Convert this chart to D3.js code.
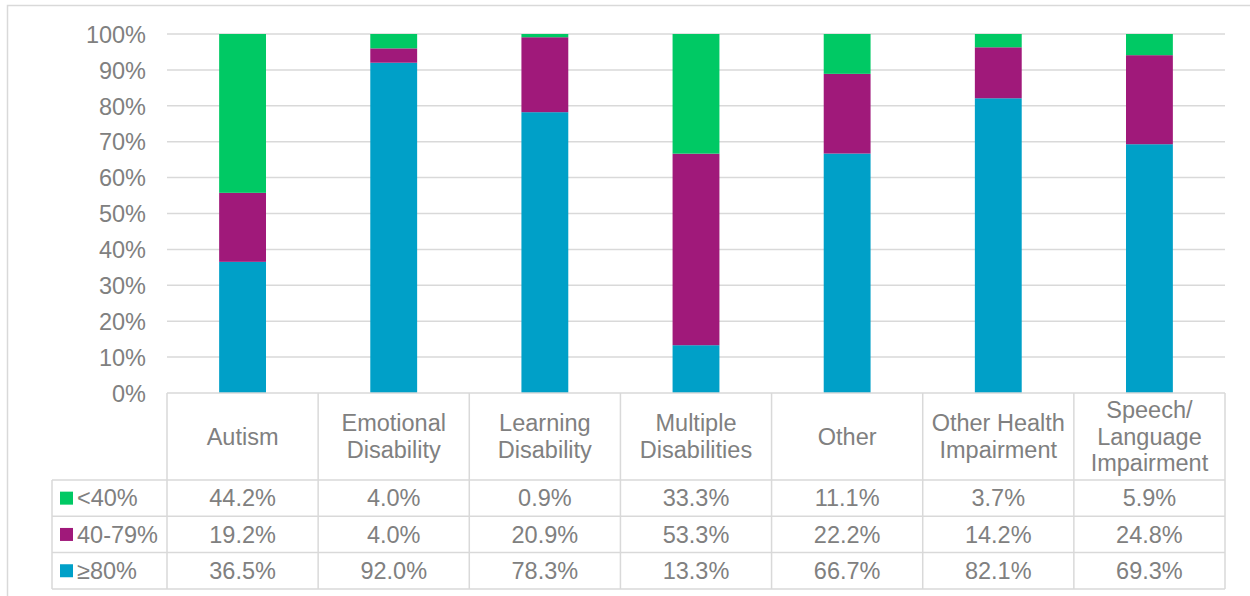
<!DOCTYPE html>
<html>
<head>
<meta charset="utf-8">
<script src="https://cdn.jsdelivr.net/npm/d3@7/dist/d3.min.js"></script>
<style>
  html, body { margin: 0; padding: 0; background: #fff; }
  svg { display: block; }
  text { font-family: "Liberation Sans", Arial, sans-serif; fill: #808080; }
</style>
</head>
<body>
<svg id="chart" width="1250" height="596"></svg>
<script>
const categories = ["Autism", "Emotional Disability", "Learning Disability", "Multiple Disabilities", "Other", "Other Health Impairment", "Speech/ Language Impairment"];
const categoryLines = [["Autism"], ["Emotional", "Disability"], ["Learning", "Disability"], ["Multiple", "Disabilities"], ["Other"], ["Other Health", "Impairment"], ["Speech/", "Language", "Impairment"]];
const seriesNames = ["<40%", "40-79%", "≥80%"];
const below40 = [44.2, 4.0, 0.9, 33.3, 11.1, 3.7, 5.9];
const mid40to79 = [19.2, 4.0, 20.9, 53.3, 22.2, 14.2, 24.8];
const above80 = [36.5, 92.0, 78.3, 13.3, 66.7, 82.1, 69.3];
const yTicks = [0, 0.1, 0.2, 0.3, 0.4, 0.5, 0.6, 0.7, 0.8, 0.9, 1.0];
const colors = {"<40%": "#00C964", "40-79%": "#A0197A", "≥80%": "#00A0C8"};

const svg = d3.select("#chart");
const gray = "#D9D9D9";
const fs = "23.5px";

// outer chart border
svg.append("rect").attr("x", 7.5).attr("y", 5.5).attr("width", 1300).attr("height", 700)
  .attr("fill", "none").attr("stroke", gray).attr("stroke-width", 1.5);

const plotLeft = 167, plotRight = 1225, plotTop = 34, plotBottom = 393;
const legendLeft = 52;

const x = d3.scaleBand().domain(categories).range([plotLeft, plotRight]).paddingInner(0).paddingOuter(0);
const y = d3.scaleLinear().domain([0, 1]).range([plotBottom, plotTop]);

// data rows
const rows = categories.map((c, i) => ({cat: c, "<40%": below40[i], "40-79%": mid40to79[i], "≥80%": above80[i]}));
const stack = d3.stack().keys(["≥80%", "40-79%", "<40%"]).offset(d3.stackOffsetExpand);
const stacked = stack(rows);

// gridlines
svg.append("g").selectAll("line").data(yTicks.filter(t => t > 0)).join("line")
  .attr("x1", plotLeft).attr("x2", plotRight)
  .attr("y1", d => y(d)).attr("y2", d => y(d))
  .attr("stroke", gray).attr("stroke-width", 1.5);

// y axis labels
const yAxis = d3.axisLeft(y).tickValues(yTicks).tickFormat(d3.format(".0%")).tickSize(0).tickPadding(0);
const yg = svg.append("g").attr("transform", `translate(${plotLeft - 21},0)`).call(yAxis);
yg.select(".domain").remove();
yg.selectAll("text").style("font-size", fs).style("font-family", "'Liberation Sans', Arial, sans-serif")
  .attr("fill", "#808080").attr("dy", "0.35em");

// bars
const barW = x.bandwidth() * 0.31;
svg.append("g").selectAll("g").data(stacked).join("g")
  .attr("fill", d => colors[d.key])
  .selectAll("rect").data(d => d).join("rect")
  .attr("x", d => x(d.data.cat) + (x.bandwidth() - barW) / 2)
  .attr("width", barW)
  .attr("y", d => y(d[1]))
  .attr("height", d => y(d[0]) - y(d[1]));

// data table
const headerBottom = 480;
const rowH = 36.3;
const tableBottom = headerBottom + rowH * 3;
const tg = svg.append("g");

// horizontal lines
tg.append("line").attr("x1", plotLeft).attr("x2", plotRight).attr("y1", plotBottom).attr("y2", plotBottom)
  .attr("stroke", gray).attr("stroke-width", 1.5);
[0, 1, 2, 3].forEach(k => {
  tg.append("line").attr("x1", legendLeft).attr("x2", plotRight)
    .attr("y1", headerBottom + k * rowH).attr("y2", headerBottom + k * rowH)
    .attr("stroke", gray).attr("stroke-width", 1.5);
});
// vertical lines
tg.append("line").attr("x1", legendLeft).attr("x2", legendLeft).attr("y1", headerBottom).attr("y2", tableBottom)
  .attr("stroke", gray).attr("stroke-width", 1.5);
categories.forEach(c => {
  tg.append("line").attr("x1", x(c)).attr("x2", x(c)).attr("y1", plotBottom).attr("y2", tableBottom)
    .attr("stroke", gray).attr("stroke-width", 1.5);
});
tg.append("line").attr("x1", plotRight).attr("x2", plotRight).attr("y1", plotBottom).attr("y2", tableBottom)
  .attr("stroke", gray).attr("stroke-width", 1.5);

// header labels
const lineH = 26.5;
const headerMid = (plotBottom + headerBottom) / 2;
categories.forEach((c, i) => {
  const lines = categoryLines[i];
  const t = tg.append("text").attr("text-anchor", "middle").style("font-size", fs);
  lines.forEach((ln, j) => {
    t.append("tspan").attr("x", x(c) + x.bandwidth() / 2)
      .attr("y", headerMid + (j - (lines.length - 1) / 2) * lineH)
      .attr("dy", "0.35em").text(ln);
  });
});

// table rows
const tableSeries = [below40, mid40to79, above80];
seriesNames.forEach((s, r) => {
  const cy = headerBottom + rowH * r + rowH / 2;
  tg.append("rect").attr("x", 60).attr("y", cy - 6.5).attr("width", 13).attr("height", 13).attr("fill", colors[s]);
  tg.append("text").attr("x", 77).attr("y", cy).attr("dy", "0.35em").style("font-size", fs).text(s);
  categories.forEach((c, i) => {
    tg.append("text").attr("x", x(c) + x.bandwidth() / 2).attr("y", cy).attr("dy", "0.35em")
      .attr("text-anchor", "middle").style("font-size", fs)
      .text(tableSeries[r][i].toFixed(1) + "%");
  });
});
</script>
</body>
</html>
